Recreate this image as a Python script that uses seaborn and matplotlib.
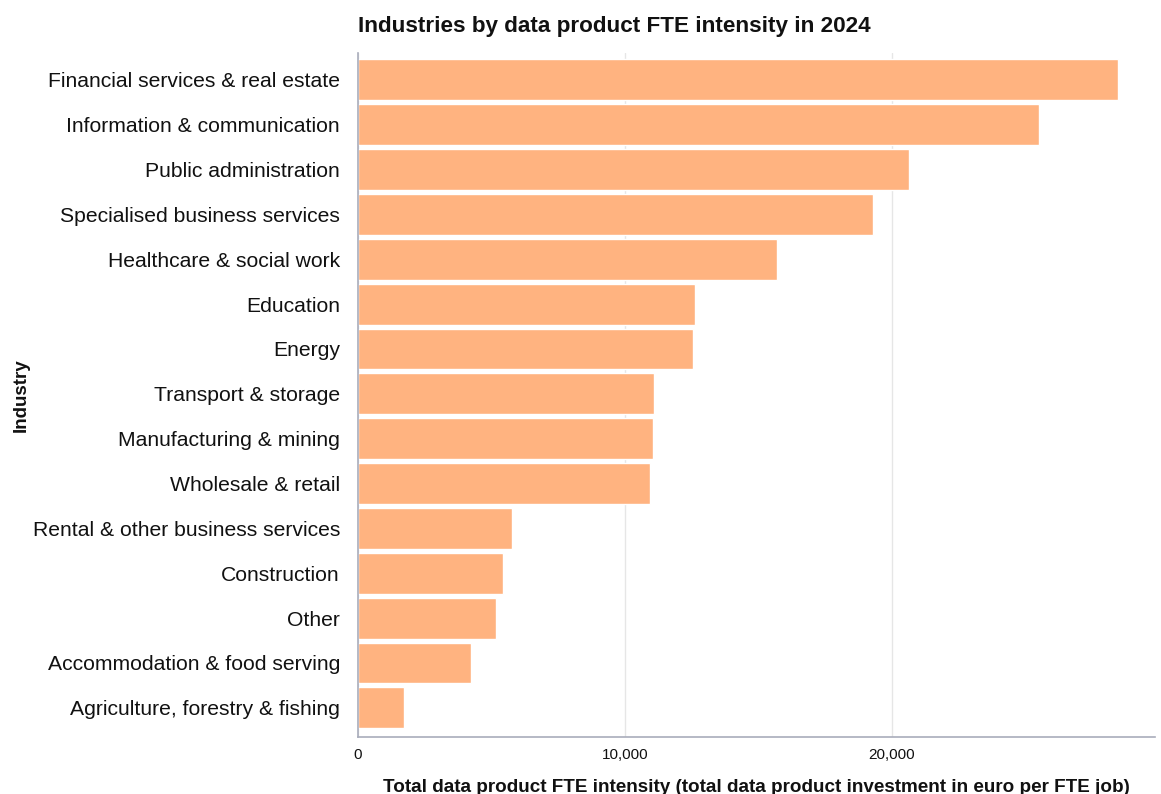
import matplotlib
matplotlib.use("Agg")
import matplotlib.pyplot as plt
import seaborn as sns
import pandas as pd
from matplotlib.ticker import FuncFormatter

industries = [
    "Financial services & real estate",
    "Information & communication",
    "Public administration",
    "Specialised business services",
    "Healthcare & social work",
    "Education",
    "Energy",
    "Transport & storage",
    "Manufacturing & mining",
    "Wholesale & retail",
    "Rental & other business services",
    "Construction",
    "Other",
    "Accommodation & food serving",
    "Agriculture, forestry & fishing",
]
intensity = [28460, 25500, 20640, 19300, 15700, 12630, 12550, 11100, 11030,
             10950, 5780, 5440, 5170, 4230, 1720]

df = pd.DataFrame({"Industry": industries, "Intensity": intensity})

sns.set_theme(style="white")
plt.rcParams["font.family"] = ["Liberation Sans", "DejaVu Sans"]

fig = plt.figure(figsize=(11.61, 7.94), dpi=100)
ax = fig.add_axes([0.3084, 0.0718, 0.6864, 0.8615])

sns.barplot(data=df, y="Industry", x="Intensity", orient="h", color="#FFB380",
            saturation=1, width=0.91, ax=ax, zorder=2)

ax.set_xlim(0, 29850)
ax.set_ylim(14.65, -0.6)
ax.set_xticks([0, 10000, 20000])
ax.xaxis.set_major_formatter(FuncFormatter(lambda v, p: f"{int(v):,}"))
ax.grid(axis="x", color="#e6e6e6", linewidth=1, zorder=0)
ax.grid(axis="y", visible=False)
ax.set_axisbelow(True)

for s in ["top", "right"]:
    ax.spines[s].set_visible(False)
ax.spines["left"].set_color("#a9adbb")
ax.spines["left"].set_linewidth(1.2)
ax.spines["bottom"].set_color("#a9adbb")
ax.spines["bottom"].set_linewidth(1.2)

ax.tick_params(axis="y", length=0, pad=13, labelsize=15.2, labelcolor="#111111")
ax.tick_params(axis="x", length=0, pad=8, labelsize=11, labelcolor="#111111")

ax.set_xlabel("Total data product FTE intensity (total data product investment in euro per FTE job)",
              fontsize=13.6, fontweight="bold", labelpad=12, color="#111111")
ax.set_ylabel("Industry", fontsize=13.5, fontweight="bold", color="#111111")
ax.yaxis.set_label_coords(-0.412, 0.5)
ax.set_title("Industries by data product FTE intensity in 2024", loc="left",
             fontsize=16.2, fontweight="bold", pad=15, color="#111111")

fig.savefig("out.png", dpi=100)
